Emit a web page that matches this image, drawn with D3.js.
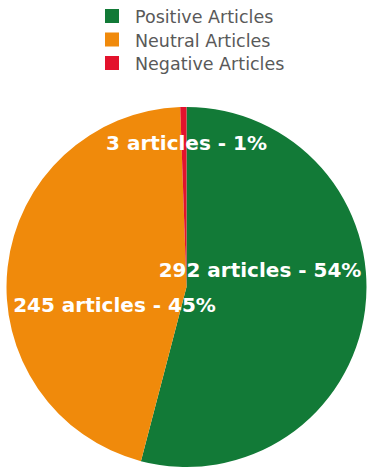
<!DOCTYPE html>
<html><head><meta charset="utf-8">
<script src="https://cdn.jsdelivr.net/npm/d3@7/dist/d3.min.js"></script>
<style>body{margin:0;background:#fff}svg{display:block}</style>
</head><body>
<svg id="c" width="367" height="470"></svg>
<script>
const categories = ["Positive Articles", "Neutral Articles", "Negative Articles"];
const values = [292, 245, 3];
const percents = ["54%", "45%", "1%"];
const colors = ["#127a37", "#f08a0b", "#e3122c"];

// label placement (layout, baseline relative to pie centre)
const labelPos = [[73.5, -10], [-72, 25], [0, -137]];

const svg = d3.select("#c");
const cx = 186.5, cy = 287, r = 180;

const pie = d3.pie().sort(null).value(d => d)(values);
const arc = d3.arc().innerRadius(0).outerRadius(r);
const g = svg.append("g").attr("transform", `translate(${cx},${cy})`);
g.selectAll("path").data(pie).join("path")
  .attr("d", arc).attr("fill", (d, i) => colors[i]);

g.selectAll("text").data(pie).join("text")
  .attr("x", (d, i) => labelPos[i][0])
  .attr("y", (d, i) => labelPos[i][1])
  .attr("text-anchor", "middle")
  .attr("fill", "#fff")
  .attr("font-family", "DejaVu Sans, Verdana, sans-serif")
  .attr("font-weight", "bold")
  .attr("font-size", 20)
  .text((d, i) => `${values[i]} articles - ${percents[i]}`);

const leg = svg.append("g");
const rows = leg.selectAll("g").data(categories).join("g")
  .attr("transform", (d, i) => `translate(105,${9 + i * 23.5})`);
rows.append("rect").attr("width", 14).attr("height", 14).attr("fill", (d, i) => colors[i]);
rows.append("text").attr("x", 30).attr("y", 14)
  .attr("fill", "#595959").attr("font-family", "DejaVu Sans, Verdana, sans-serif")
  .attr("font-size", 17.5).text(d => d);
</script>
</body></html>
